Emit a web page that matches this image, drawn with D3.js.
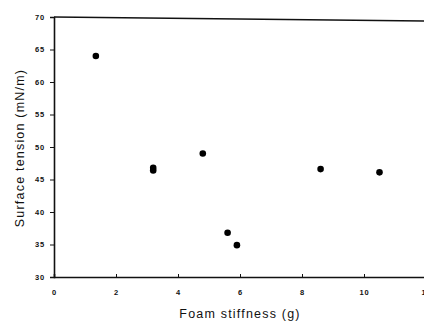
<!DOCTYPE html>
<html><head><meta charset="utf-8">
<script src="https://cdn.jsdelivr.net/npm/d3@7"></script>
<style>body{margin:0;background:#fff;} svg{display:block;}</style>
</head><body>
<svg id="c" width="424" height="324"></svg>
<script>
const stiffness = [1.35, 3.2, 3.2, 4.8, 5.6, 5.9, 8.6, 10.5];
const tension = [64.0, 46.8, 46.4, 49.0, 36.8, 34.9, 46.6, 46.1];
const xTicks = [0, 2, 4, 6, 8, 10, 12];
const yTicks = [30, 35, 40, 45, 50, 55, 60, 65, 70];

const svg = d3.select("#c");
const x = d3.scaleLinear().domain([0, 12]).range([54, 426]);
const y = d3.scaleLinear().domain([30, 70]).range([277, 17]);
const font = "Arial, 'Liberation Sans', sans-serif";

const gx = svg.append("g").attr("transform", `translate(0,${y(30)})`)
  .call(d3.axisBottom(x).tickValues(xTicks).tickSize(-3).tickPadding(13).tickFormat(d3.format("d")));
const gy = svg.append("g").attr("transform", `translate(${x(0)},0)`)
  .call(d3.axisLeft(y).tickValues(yTicks).tickSize(4).tickPadding(5).tickFormat(d3.format("d")));
[gx, gy].forEach(g => {
  g.select(".domain").attr("stroke", "#111").attr("stroke-width", 1.6);
  g.selectAll(".tick line").attr("stroke", "#111").attr("stroke-width", 1);
  g.selectAll(".tick text").attr("font-family", font).attr("font-size", 7.5).attr("font-weight", "bold")
    .attr("letter-spacing", 0.8).attr("fill", "#111");
});
// top frame line
svg.append("line").attr("x1", x(0)).attr("x2", 424).attr("y1", y(70)).attr("y2", y(70) + 4)
  .attr("stroke", "#111").attr("stroke-width", 1.5);

svg.append("g").selectAll("circle").data(stiffness).join("circle")
  .attr("cx", d => x(d)).attr("cy", (d, i) => y(tension[i])).attr("r", 3.3).attr("fill", "#000");

svg.append("text").attr("x", 240).attr("y", 318).attr("text-anchor", "middle")
  .attr("font-family", font).attr("font-size", 12.5).attr("letter-spacing", 1.2).attr("fill", "#111").text("Foam stiffness (g)");
svg.append("text").attr("transform", "translate(24,148) rotate(-90)").attr("text-anchor", "middle")
  .attr("font-family", font).attr("font-size", 12.5).attr("letter-spacing", 1.2).attr("fill", "#111").text("Surface tension (mN/m)");
</script>
</body></html>
